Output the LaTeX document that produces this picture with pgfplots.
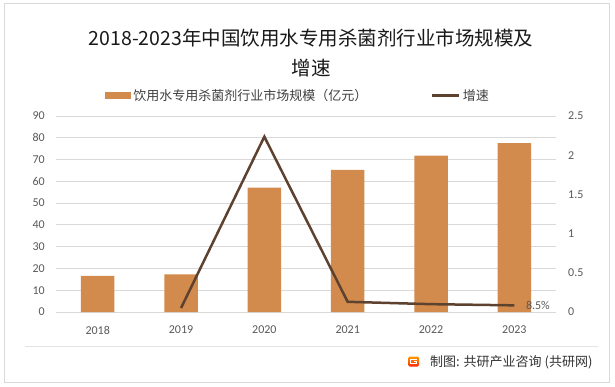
\documentclass[border=0pt]{standalone}
\usepackage{pgfplots}
\pgfplotsset{compat=1.18}
\usepackage{fontspec}
\setmainfont{Carlito}
\newfontfamily\cjk{Noto Sans CJK SC}
\definecolor{barc}{HTML}{D38B4D}
\definecolor{linec}{HTML}{5E4230}
\definecolor{gridc}{HTML}{D9D9D9}
\definecolor{tickc}{HTML}{595959}
\definecolor{legc}{HTML}{404040}
\begin{document}
\begin{tikzpicture}[x=1bp,y=1bp]
\useasboundingbox (0,0) rectangle (615,386);
\fill[white] (0,0) rectangle (615,386);
\draw[gridc, line width=0.8bp] (4,4) rectangle (609.5,382.5);
\draw[gridc!70, line width=0.6bp] (25,40) -- (598,40);
\node[font=\cjk\fontsize{19.5bp}{23bp}\selectfont, text=black!90, inner sep=0pt] at (311,348) {2018-2023年中国饮用水专用杀菌剂行业市场规模及};
\node[font=\cjk\fontsize{19.5bp}{23bp}\selectfont, text=black!90, inner sep=0pt] at (311,318) {增速};
\begin{axis}[at={(56bp,74bp)}, anchor=south west, scale only axis,
  width=500bp, height=196bp,
  xmin=-0.5, xmax=5.5, ymin=0, ymax=90,
  ytick={0,10,20,30,40,50,60,70,80,90},
  xtick={0,1,2,3,4,5}, xticklabels={2018,2019,2020,2021,2022,2023},
  ymajorgrids, grid style={gridc, line width=0.8bp},
  axis line style={draw=none}, major tick length=0pt, tick style={draw=none},
  ticklabel style={font=\fontsize{12bp}{14bp}\selectfont, text=tickc, inner sep=0pt},
  yticklabel style={xshift=-11bp},
  xticklabel style={yshift=-14bp},
  /pgf/number format/assume math mode=true]
\addplot[ybar, bar width=33.5bp, fill=barc, draw=none] coordinates {(0,16.6) (1,17.3) (2,57.1) (3,65.3) (4,71.8) (5,77.5)};
\end{axis}
\begin{axis}[at={(56bp,74bp)}, anchor=south west, scale only axis,
  width=500bp, height=196bp,
  xmin=-0.5, xmax=5.5, ymin=0, ymax=2.5,
  xtick=\empty,
  ytick={0,0.5,1,1.5,2,2.5}, yticklabels={0,0.5,1,1.5,2,2.5},
  yticklabel pos=right,
  axis line style={draw=none}, major tick length=0pt, tick style={draw=none},
  ticklabel style={font=\fontsize{12bp}{14bp}\selectfont, text=tickc, inner sep=0pt},
  yticklabel style={xshift=12bp, anchor=west},
  clip=false,
  legend columns=2,
  legend style={at={(0.098,1.1046)}, anchor=west, draw=none, fill=none,
    inner sep=0pt, outer sep=0pt, font=\cjk\fontsize{13bp}{15bp}\selectfont, text=legc,
    nodes={inner sep=0pt},
    /tikz/every odd column/.append style={column sep=3bp},
    /tikz/every even column/.append style={column sep=63bp}}]
\addlegendimage{legend image code/.code={\fill[barc] (0bp,-3bp) rectangle (25bp,3bp);}}
\addlegendentry{饮用水专用杀菌剂行业市场规模（亿元）}
\addplot[linec, line width=2.5bp, mark=none,
  legend image code/.code={\draw[linec, line width=2.5bp] (0bp,0bp) -- (27bp,0bp);}]
  coordinates {(1,0.05) (2,2.236) (3,0.13) (4,0.10) (5,0.085)};
\addlegendentry{增速}
\node[anchor=west, inner sep=0pt, xshift=11.5bp, font=\fontsize{12bp}{14bp}\selectfont, text=tickc] at (axis cs:5,0.085) {8.5\%};
\end{axis}
\shade[top color=orange!80!yellow, bottom color=red!70!orange, rounded corners=1.5bp] (408,19.5) rectangle (419,29.5);
\draw[white, line width=1.3bp] (416.5,26.8) -- (410.7,26.8) -- (410.7,22.2) -- (416.5,22.2) -- (416.5,24.6) -- (413.6,24.6);
\node[anchor=west, inner sep=0pt, font=\cjk\fontsize{13bp}{15bp}\selectfont, text=black!80] at (430,24) {制图: 共研产业咨询 (共研网)};
\end{tikzpicture}
\end{document}
